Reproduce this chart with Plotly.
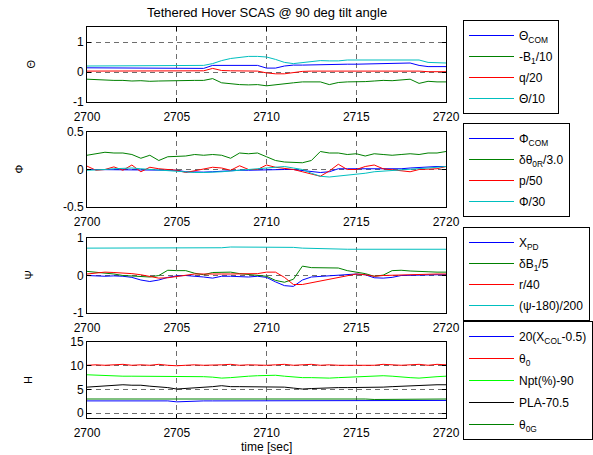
import plotly.graph_objects as go

# ---------------- data ----------------
time = [2700.0, 2700.5, 2701.0, 2701.5, 2702.0, 2702.5, 2703.0, 2703.5, 2704.0, 2704.5,
        2705.0, 2705.5, 2706.0, 2706.5, 2707.0, 2707.5, 2708.0, 2708.5, 2709.0, 2709.5,
        2710.0, 2710.5, 2711.0, 2711.5, 2712.0, 2712.5, 2713.0, 2713.5, 2714.0, 2714.5,
        2715.0, 2715.5, 2716.0, 2716.5, 2717.0, 2717.5, 2718.0, 2718.5, 2719.0, 2719.5,
        2720.0]

# Panel 1 (Theta)
theta_com = [0.14, 0.14, 0.14, 0.14, 0.13, 0.13, 0.12, 0.12, 0.12, 0.12, 0.12, 0.12, 0.12, 0.12,
             0.22, 0.22, 0.22, 0.22, 0.22, 0.22, 0.13, 0.13, 0.20, 0.23, 0.23, 0.24, 0.25, 0.25,
             0.25, 0.26, 0.26, 0.27, 0.27, 0.28, 0.28, 0.29, 0.30, 0.22, 0.18, 0.18, 0.18]
neg_b1_10 = [-0.24, -0.26, -0.27, -0.28, -0.28, -0.30, -0.29, -0.31, -0.30, -0.29, -0.30, -0.29,
             -0.28, -0.28, -0.22, -0.36, -0.40, -0.42, -0.43, -0.42, -0.46, -0.42, -0.38, -0.36,
             -0.33, -0.32, -0.33, -0.42, -0.35, -0.33, -0.33, -0.32, -0.30, -0.28, -0.29, -0.27,
             -0.24, -0.38, -0.31, -0.33, -0.33]
q_20 = [0.03, 0.03, 0.02, 0.03, 0.03, 0.04, 0.02, 0.03, 0.02, 0.04, 0.02, 0.03, 0.03, 0.04,
        0.12, 0.05, 0.04, 0.04, 0.03, 0.03, -0.03, -0.06, -0.06, -0.02, 0.02, 0.03, 0.03, 0.02,
        0.04, 0.03, 0.04, 0.03, 0.02, 0.04, 0.03, 0.04, 0.03, 0.03, 0.01, 0.02, 0.01]
theta_10 = [0.20, 0.20, 0.20, 0.20, 0.21, 0.21, 0.20, 0.21, 0.21, 0.21, 0.21, 0.21, 0.21, 0.22,
            0.28, 0.38, 0.45, 0.48, 0.52, 0.52, 0.50, 0.42, 0.32, 0.28, 0.32, 0.36, 0.38, 0.37,
            0.37, 0.40, 0.40, 0.40, 0.39, 0.40, 0.41, 0.41, 0.41, 0.40, 0.32, 0.30, 0.30]

# Panel 2 (Phi)
phi_com = [0.0, 0.0, -0.005, 0.0, -0.005, -0.01, -0.005, -0.01, -0.01, -0.01, -0.01, -0.03,
           -0.035, -0.035, -0.03, -0.02, -0.01, -0.01, -0.01, -0.005, 0.0, 0.0, 0.0, 0.0, -0.01,
           -0.03, -0.04, -0.03, 0.01, 0.01, 0.01, 0.01, 0.01, 0.0, 0.0, 0.01, 0.02, 0.03, 0.04,
           0.04, 0.04]
dtheta0r_3 = [0.19, 0.21, 0.23, 0.22, 0.22, 0.20, 0.15, 0.19, 0.12, 0.17, 0.17, 0.18, 0.20, 0.19,
              0.20, 0.19, 0.15, 0.22, 0.21, 0.22, 0.17, 0.12, 0.10, 0.10, 0.09, 0.12, 0.24, 0.22,
              0.22, 0.20, 0.21, 0.18, 0.21, 0.20, 0.19, 0.20, 0.21, 0.20, 0.22, 0.22, 0.24]
p_50 = [0.045, -0.01, 0.0, 0.035, -0.01, 0.06, -0.03, 0.03, 0.01, 0.0, -0.01, -0.04, -0.02, 0.0,
        0.03, 0.02, -0.01, 0.05, 0.0, 0.0, 0.06, 0.03, 0.02, 0.0, -0.03, -0.06, -0.09, -0.02,
        0.07, 0.0, 0.0, 0.04, 0.06, 0.01, 0.0, -0.02, -0.03, 0.0, 0.01, 0.01, 0.04]
phi_30 = [-0.01, -0.01, 0.0, 0.01, 0.02, 0.02, 0.01, 0.0, 0.0, -0.01, -0.02, -0.03, -0.04, -0.04,
          -0.04, -0.03, -0.02, -0.01, 0.0, 0.0, 0.01, 0.03, 0.04, 0.02, 0.0, -0.05, -0.09, -0.10,
          -0.09, -0.08, -0.07, -0.05, -0.03, -0.02, -0.01, 0.0, 0.01, 0.02, 0.02, 0.03, 0.04]

# Panel 3 (Psi)
x_pd = [0.0, -0.01, -0.02, -0.01, -0.02, -0.05, -0.12, -0.16, -0.12, -0.05, -0.01, 0.0, -0.01,
        -0.04, -0.07, -0.02, -0.02, -0.04, -0.04, -0.02, -0.05, -0.17, -0.27, -0.29, -0.12, -0.04,
        -0.02, 0.0, 0.01, 0.03, 0.04, 0.02, -0.06, -0.07, -0.05, 0.0, 0.01, 0.02, 0.02, 0.02, 0.02]
db1_5 = [0.11, 0.09, 0.07, 0.04, 0.0, -0.02, -0.04, -0.04, 0.0, 0.14, 0.13, 0.13, 0.06, 0.02,
         0.08, 0.09, 0.09, 0.05, 0.03, 0.02, -0.02, -0.13, -0.18, -0.10, 0.25, 0.21, 0.20, 0.20,
         0.20, 0.13, 0.09, 0.05, -0.02, 0.01, 0.13, 0.14, 0.12, 0.12, 0.10, 0.09, 0.09]
r_40 = [0.04, 0.07, 0.09, 0.08, 0.07, 0.05, 0.02, -0.03, -0.07, -0.06, -0.02, 0.02, 0.04, 0.04,
        0.05, 0.04, 0.04, 0.04, 0.04, 0.05, 0.09, 0.09, -0.05, -0.24, -0.24, -0.19, -0.15, -0.10,
        -0.05, 0.0, 0.04, 0.02, -0.02, 0.0, 0.01, 0.02, 0.03, 0.04, 0.04, 0.04, 0.04]
psi_200 = [0.73, 0.73, 0.73, 0.73, 0.73, 0.74, 0.74, 0.74, 0.74, 0.74, 0.74, 0.74, 0.74, 0.74,
           0.74, 0.74, 0.76, 0.76, 0.76, 0.76, 0.76, 0.76, 0.76, 0.75, 0.73, 0.72, 0.71, 0.70,
           0.70, 0.70, 0.70, 0.70, 0.70, 0.70, 0.70, 0.70, 0.70, 0.70, 0.70, 0.70, 0.70]

# Panel 4 (H)
xcol = [2.6, 2.6, 2.6, 2.6, 2.5, 2.6, 2.6, 2.6, 2.6, 2.6, 2.4, 2.5, 2.6, 2.6, 2.6, 2.6, 2.6, 2.6,
        2.6, 2.7, 2.7, 2.7, 2.7, 2.7, 2.7, 2.7, 2.7, 2.7, 2.7, 2.7, 2.7, 2.7, 2.7, 2.7, 2.7, 2.7,
        2.7, 2.7, 2.7, 2.7, 2.7]
theta0 = [10.1, 10.2, 10.1, 10.2, 10.3, 10.1, 10.2, 10.1, 10.3, 10.1, 10.0, 10.1, 10.2, 10.1,
          10.1, 10.2, 10.3, 10.1, 10.2, 10.1, 10.1, 10.2, 10.3, 10.1, 10.2, 10.3, 10.1, 10.2,
          10.1, 10.1, 10.2, 10.1, 10.1, 10.3, 10.2, 10.1, 10.2, 10.3, 10.1, 10.3, 10.2]
npt = [8.1, 8.0, 7.9, 7.8, 7.8, 7.8, 7.8, 7.8, 7.8, 7.8, 7.8, 7.8, 7.8, 7.7, 7.6, 7.4, 7.5, 7.7,
       7.8, 7.9, 7.9, 8.0, 7.8, 7.6, 7.5, 7.5, 7.4, 7.4, 7.5, 7.6, 7.6, 7.7, 7.9, 7.9, 7.8, 7.6,
       7.5, 7.4, 7.6, 7.7, 7.8]
pla = [5.5, 5.6, 5.8, 5.9, 6.0, 5.9, 5.9, 5.7, 5.6, 5.4, 5.1, 5.2, 5.4, 5.5, 5.6, 5.8, 5.6, 5.6,
       5.6, 5.5, 5.6, 5.6, 5.5, 5.3, 5.1, 5.2, 5.3, 5.3, 5.4, 5.4, 5.4, 5.5, 5.4, 5.5, 5.6, 5.7,
       5.8, 5.8, 5.9, 6.0, 6.0]
theta0g = [3.0, 3.0, 3.0, 3.0, 3.0, 3.1, 3.1, 3.1, 3.0, 3.0, 3.0, 3.0, 3.1, 3.1, 3.0, 3.0, 3.0,
           3.1, 3.0, 3.0, 3.0, 3.1, 3.0, 3.1, 3.0, 3.0, 3.0, 3.0, 3.0, 3.0, 3.0, 3.0, 2.9, 2.9,
           3.0, 3.0, 3.0, 3.0, 3.0, 3.0, 3.0]

x_ticks = [2700, 2705, 2710, 2715, 2720]
panel_titles = ["Θ", "Φ", "Ψ", "H"]
y_ranges = [[-1, 1.5], [-0.5, 0.5], [-1, 1], [-1, 15]]
y_ticks = [[-1, 0, 1], [-0.5, 0, 0.5], [-1, 0, 1], [0, 5, 10, 15]]
y_ticktext = [["-1", "0", "1"], ["-0.5", "0", "0.5"], ["-1", "0", "1"], ["0", "5", "10", "15"]]

# ---------------- style ----------------
BLUE, GREEN, RED, CYAN = "#0000ff", "#008000", "#ff0000", "#00bfbf"
LIME, BLACK = "#00ff00", "#000000"
FONT = "Liberation Sans, Arial, Helvetica, sans-serif"
W, H = 593, 455

panels = [
    [(theta_com, "Θ<sub>COM</sub>", BLUE), (neg_b1_10, "-B<sub>1</sub>/10", GREEN),
     (q_20, "q/20", RED), (theta_10, "Θ/10", CYAN)],
    [(phi_com, "Φ<sub>COM</sub>", BLUE), (dtheta0r_3, "δθ<sub>0R</sub>/3.0", GREEN),
     (p_50, "p/50", RED), (phi_30, "Φ/30", CYAN)],
    [(x_pd, "X<sub>PD</sub>", BLUE), (db1_5, "δB<sub>1</sub>/5", GREEN),
     (r_40, "r/40", RED), (psi_200, "(ψ-180)/200", CYAN)],
    [(xcol, "20(X<sub>COL</sub>-0.5)", BLUE), (theta0, "θ<sub>0</sub>", RED),
     (npt, "Npt(%)-90", LIME), (pla, "PLA-70.5", BLACK), (theta0g, "θ<sub>0G</sub>", GREEN)],
]

# pixel geometry (top, bottom) of each axes box
boxes = [(27, 102), (132, 207), (238, 313), (342, 418)]
x_left, x_right = 87, 446
legend_tops = [20, 123, 227, 321]
legend_gaps = [2, 2, 2, 3]
ylab_x = [30, 18, 28, 28]

fig = go.Figure()
layout = dict(
    width=W, height=H, margin=dict(l=0, r=0, t=0, b=0, autoexpand=False),
    paper_bgcolor="white", plot_bgcolor="white",
    font=dict(family=FONT, size=12, color="black"),
    showlegend=True, annotations=[],
)

for k, series in enumerate(panels):
    ax = "" if k == 0 else str(k + 1)
    leg = "legend" if k == 0 else f"legend{k + 1}"
    for vals, name, col in series:
        fig.add_trace(go.Scatter(
            x=time, y=vals, mode="lines", name=name,
            line=dict(color=col, width=1),
            xaxis="x" + ax, yaxis="y" + ax, legend=leg,
            legendgroup=f"g{k}_{name}",
        ))
    top, bot = boxes[k]
    layout["xaxis" + ax] = dict(
        domain=[x_left / W, x_right / W], anchor="y" + ax, automargin=False,
        range=[2700, 2720], tickvals=x_ticks, ticktext=[str(v) for v in x_ticks],
        showline=True, mirror="ticks", linecolor="black", linewidth=1,
        ticks="inside", ticklen=4, tickcolor="black", ticklabelstandoff=4,
        showgrid=True, gridcolor="#6e6e6e", griddash="5px,4px", gridwidth=1,
        zeroline=False, tickfont=dict(size=12, family=FONT),
    )
    layout["yaxis" + ax] = dict(
        domain=[(H - bot) / H, (H - top) / H], anchor="x" + ax, automargin=False,
        range=y_ranges[k], tickvals=y_ticks[k], ticktext=y_ticktext[k],
        showline=True, mirror="ticks", linecolor="black", linewidth=1,
        ticks="inside", ticklen=4, tickcolor="black",
        showgrid=True, gridcolor="#6e6e6e", griddash="5px,4px", gridwidth=1,
        zeroline=False, tickfont=dict(size=12, family=FONT),
    )
    layout[leg] = dict(
        x=463 / W, y=(H - legend_tops[k]) / H, xanchor="left", yanchor="top",
        xref="paper", yref="paper", itemwidth=45,
        bordercolor="black", borderwidth=1, bgcolor="white",
        font=dict(size=12, family=FONT), tracegroupgap=legend_gaps[k],
        traceorder="grouped",
    )
    layout["annotations"].append(dict(
        text=panel_titles[k], x=ylab_x[k] / W, y=(H - (top + bot) / 2) / H,
        xref="paper", yref="paper", showarrow=False, textangle=-90,
        xanchor="center", yanchor="middle", font=dict(size=11, family=FONT),
    ))

layout["annotations"].append(dict(
    text="Tethered Hover SCAS @ 90 deg tilt angle", x=(x_left + x_right) / 2 / W,
    y=(H - 12) / H, xref="paper", yref="paper", showarrow=False,
    xanchor="center", yanchor="middle", font=dict(size=13, family=FONT),
))
layout["annotations"].append(dict(
    text="time [sec]", x=(x_left + x_right) / 2 / W, y=(H - 447) / H,
    xref="paper", yref="paper", showarrow=False, borderpad=0,
    xanchor="center", yanchor="middle", font=dict(size=12, family=FONT),
))

fig.update_layout(**layout)
fig.write_html("out.html")
